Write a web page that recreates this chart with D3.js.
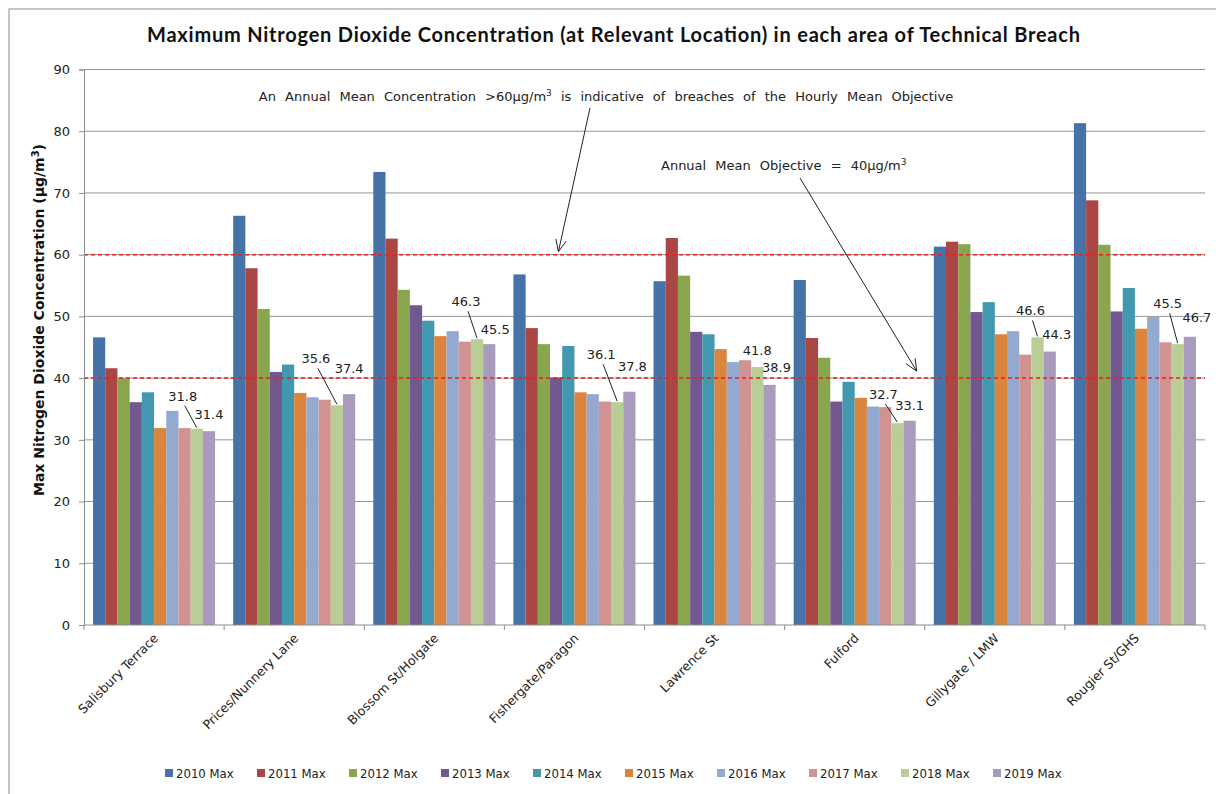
<!DOCTYPE html>
<html>
<head>
<meta charset="utf-8">
<script src="https://cdn.jsdelivr.net/npm/d3@7"></script>
<style>
body { margin: 0; background: #fff; }
svg { display: block; }
</style>
</head>
<body>
<script>
const categories = ["Salisbury Terrace", "Prices/Nunnery Lane", "Blossom St/Holgate", "Fishergate/Paragon",
    "Lawrence St", "Fulford", "Gillygate / LMW", "Rougier St/GHS"];
const years = ["2010 Max", "2011 Max", "2012 Max", "2013 Max", "2014 Max",
    "2015 Max", "2016 Max", "2017 Max", "2018 Max", "2019 Max"];

const v2010 = [46.6, 66.3, 73.4, 56.8, 55.7, 55.9, 61.3, 81.3];
const v2011 = [41.6, 57.8, 62.6, 48.1, 62.7, 46.5, 62.1, 68.8];
const v2012 = [40.0, 51.2, 54.3, 45.5, 56.6, 43.3, 61.7, 61.6];
const v2013 = [36.1, 41.0, 51.8, 40.1, 47.5, 36.2, 50.7, 50.8];
const v2014 = [37.7, 42.2, 49.3, 45.2, 47.1, 39.4, 52.3, 54.6];
const v2015 = [31.9, 37.6, 46.8, 37.7, 44.7, 36.8, 47.1, 48.0];
const v2016 = [34.7, 36.9, 47.6, 37.4, 42.6, 35.4, 47.6, 49.9];
const v2017 = [31.9, 36.5, 45.9, 36.2, 42.9, 35.3, 43.8, 45.8];
const v2018 = [31.8, 35.6, 46.3, 36.1, 41.8, 32.7, 46.6, 45.5];
const v2019 = [31.4, 37.4, 45.5, 37.8, 38.9, 33.1, 44.3, 46.7];
const series = [v2010, v2011, v2012, v2013, v2014, v2015, v2016, v2017, v2018, v2019];

const yTicks = [0, 10, 20, 30, 40, 50, 60, 70, 80, 90];
const limits = [60, 40];

const colors = ["#4572A7", "#AA4643", "#89A54E", "#71588F", "#4198AF",
    "#DB843D", "#93A9CF", "#D19392", "#B9CD96", "#A99BBD"];

// where excel put the 2018 / 2019 data labels, relative to the bar top
const labelOffsets = [[-14, -28, 0, -12], [-21, -42, 0, -21], [-11, -33, 6, -10], [-16, -43, 3, -21],
    [0, -12, 7, -13], [-14, -24, 0, -11], [-7, -22, 7, -13], [-10, -36, 7, -15]];

let width = 1216, height = 794;
let pLeft = 84, pRight = 1205, pTop = 69.5, pBottom = 625;

let svg = d3.select("body").append("svg").attr("width", width).attr("height", height);

svg.append("rect").attr("x", 9).attr("y", 9).attr("width", 1300).attr("height", 900)
    .attr("fill", "none").attr("stroke", "#8c8c8c");

let pad = 0.129;
let x0 = d3.scaleBand().domain(categories).range([pLeft, pRight]).paddingInner(pad).paddingOuter(pad / 2);
let x1 = d3.scaleBand().domain(years).range([0, x0.bandwidth()]);
let y = d3.scaleLinear().domain([0, 90]).range([pBottom, pTop]);

// gridlines
svg.append("g").selectAll("line").data(yTicks.slice(1)).join("line")
    .attr("x1", pLeft).attr("x2", pRight)
    .attr("y1", d => y(d)).attr("y2", d => y(d))
    .attr("stroke", "#969696").attr("stroke-width", 1);

// bars
let rows = categories.map((c, i) => ({cat: c, vals: series.map((s, j) => ({year: years[j], v: s[i], j: j}))}));
svg.append("g").selectAll("g").data(rows).join("g")
    .attr("transform", d => "translate(" + x0(d.cat) + ",0)")
    .selectAll("rect").data(d => d.vals).join("rect")
    .attr("x", d => x1(d.year))
    .attr("y", d => y(d.v))
    .attr("width", x1.bandwidth())
    .attr("height", d => y(0) - y(d.v))
    .attr("fill", d => colors[d.j]);

// limit lines
svg.append("g").selectAll("line").data(limits).join("line")
    .attr("x1", pLeft).attr("x2", pRight)
    .attr("y1", d => y(d)).attr("y2", d => y(d))
    .attr("stroke", "#e8211c").attr("stroke-width", 1.5).attr("stroke-dasharray", "4,3");

// y axis
let yAxis = svg.append("g").attr("transform", "translate(" + pLeft + ",0)")
    .call(d3.axisLeft(y).tickValues(yTicks).tickSize(5).tickPadding(9));
yAxis.select(".domain").attr("stroke", "#8c8c8c");
yAxis.selectAll(".tick line").attr("stroke", "#8c8c8c");
yAxis.selectAll("text").attr("font-family", "DejaVu Sans, Verdana").attr("font-size", "13px").attr("fill", "#222");

// x axis
let step = x0.step();
let bounds = d3.range(categories.length + 1).map(i => pLeft + i * step);
let xg = svg.append("g");
xg.append("line").attr("x1", pLeft).attr("x2", pRight).attr("y1", pBottom).attr("y2", pBottom).attr("stroke", "#8c8c8c");
xg.selectAll(".tk").data(bounds).join("line").attr("class", "tk")
    .attr("x1", d => d).attr("x2", d => d).attr("y1", pBottom).attr("y2", pBottom + 5)
    .attr("stroke", "#8c8c8c");
xg.selectAll("text").data(categories).join("text")
    .attr("transform", d => "translate(" + (x0(d) + x0.bandwidth() / 2 + 5) + "," + (pBottom + 14) + ") rotate(-45)")
    .attr("text-anchor", "end")
    .attr("font-family", "DejaVu Sans, Verdana").attr("font-size", "12.5px").attr("fill", "#222")
    .text(d => d);

// data labels for 2018 and 2019
let lab = svg.append("g").attr("font-family", "DejaVu Sans, Verdana").attr("font-size", "13px").attr("fill", "#222");
categories.forEach(function (c, i) {
    let o = labelOffsets[i];
    let bx18 = x0(c) + x1("2018 Max") + x1.bandwidth() / 2;
    let bx19 = x0(c) + x1("2019 Max") + x1.bandwidth() / 2;
    let t18 = y(v2018[i]), t19 = y(v2019[i]);
    lab.append("text").attr("x", bx18 + o[0]).attr("y", t18 + o[1]).attr("text-anchor", "middle").text(v2018[i].toFixed(1));
    lab.append("text").attr("x", bx19 + o[2]).attr("y", t19 + o[3]).attr("text-anchor", "middle").text(v2019[i].toFixed(1));
    if (o[1] < -15) {
        lab.append("line").attr("x1", bx18 + o[0] + 2).attr("y1", t18 + o[1] + 5)
            .attr("x2", bx18).attr("y2", t18 - 1)
            .attr("stroke", "#222").attr("stroke-width", 1);
    }
});

// title
svg.append("text").attr("x", 147).attr("y", 42)
    .attr("font-family", "Lato, Open Sans").attr("font-weight", 700).attr("font-size", "20px").attr("fill", "#111")
    .attr("textLength", 933).attr("lengthAdjust", "spacing")
    .text("Maximum Nitrogen Dioxide Concentration (at Relevant Location) in each area of Technical Breach");

// y title
let yt = svg.append("text").attr("transform", "translate(44,320) rotate(-90)")
    .attr("text-anchor", "middle")
    .attr("font-family", "DejaVu Sans, Verdana").attr("font-weight", "bold").attr("font-size", "14px").attr("fill", "#111");
yt.append("tspan").text("Max Nitrogen Dioxide Concentration (µg/m");
yt.append("tspan").attr("dy", -5).attr("font-size", "10px").text("3");
yt.append("tspan").attr("dy", 5).text(")");

// annotations
function arrow(xa, ya, xb, yb) {
    let g = svg.append("g").attr("stroke", "#222").attr("stroke-width", 1).attr("fill", "none");
    g.append("line").attr("x1", xa).attr("y1", ya).attr("x2", xb).attr("y2", yb);
    let a = Math.atan2(yb - ya, xb - xa), L = 13, s = 0.42;
    g.append("path").attr("d", "M" + (xb - L * Math.cos(a - s)) + "," + (yb - L * Math.sin(a - s))
        + "L" + xb + "," + yb + "L" + (xb - L * Math.cos(a + s)) + "," + (yb - L * Math.sin(a + s)));
}

let a1 = svg.append("text").attr("x", 606).attr("y", 101).attr("text-anchor", "middle")
    .attr("font-family", "DejaVu Sans, Verdana").attr("font-size", "13px").attr("fill", "#222")
    .attr("word-spacing", "5px");
a1.append("tspan").text("An Annual Mean Concentration  >60µg/m");
a1.append("tspan").attr("dy", -5).attr("font-size", "9px").text("3");
a1.append("tspan").attr("dy", 5).text(" is indicative of breaches of the Hourly Mean Objective");
arrow(590, 108, x0("Fishergate/Paragon") + 45, y(60) - 3);

let a2 = svg.append("text").attr("x", 661).attr("y", 170)
    .attr("font-family", "DejaVu Sans, Verdana").attr("font-size", "13px").attr("fill", "#222")
    .attr("word-spacing", "5px");
a2.append("tspan").text("Annual Mean Objective  = 40µg/m");
a2.append("tspan").attr("dy", -5).attr("font-size", "9px").text("3");
arrow(800, 178, x0("Fulford") + x0.bandwidth() + 1, y(40) - 7);

// legend
let leg = svg.append("g").attr("font-family", "Liberation Sans Narrow, DejaVu Sans Condensed, Arial Narrow")
    .attr("font-size", "13px").attr("fill", "#222");
let item = leg.selectAll("g").data(years).join("g")
    .attr("transform", (d, i) => "translate(" + (165 + i * 92) + ",773)");
item.append("rect").attr("x", 0).attr("y", -4).attr("width", 8).attr("height", 8).attr("fill", (d, i) => colors[i]);
item.append("text").attr("x", 11).attr("y", 4.5).text(d => d);
</script>
</body>
</html>
